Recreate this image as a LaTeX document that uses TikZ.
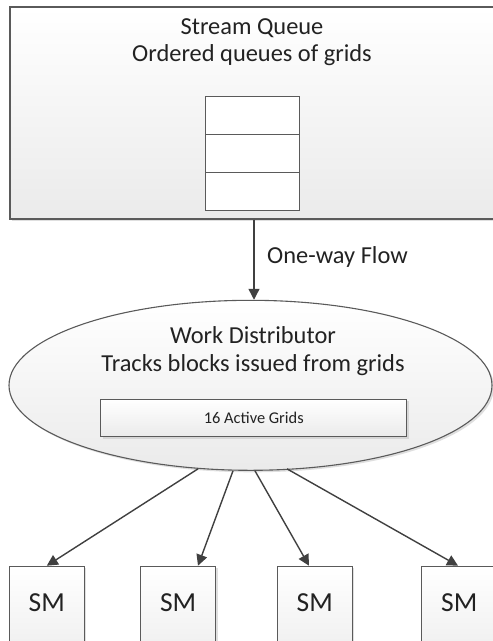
\documentclass[tikz,border=0pt]{standalone}
\usepackage{fontspec}
\setmainfont{Carlito}
\usetikzlibrary{arrows.meta,shapes.geometric,shadows,calc}
\definecolor{edge}{HTML}{5A5A5A}
\definecolor{arrc}{HTML}{404040}
\definecolor{txt}{HTML}{222222}
\begin{document}
\begin{tikzpicture}[x=1pt,y=-1pt,
  shadowed/.style={drop shadow={shadow xshift=2pt,shadow yshift=-2pt,fill=black!25,opacity=0.5}},
  panel/.style={draw=edge,line width=1.1pt,top color=white,bottom color=black!8,shadowed,inner sep=0pt},
  cell/.style={draw=edge,line width=0.9pt,fill=white,minimum width=93.6pt,minimum height=37.8pt,inner sep=0pt},
  lbl/.style={text=txt,inner sep=0pt,font=\fontsize{24.4}{29}\selectfont},
  arr/.style={draw=arrc,line width=1.4pt,-{Triangle[length=11pt,width=11pt]}}]
\clip (0,0) rectangle (493,641);
% stream queue
\node[panel,rectangle,minimum width=488pt,minimum height=212pt] (sq) at (254,113) {};
\node[lbl] (sqt1) at (252,28) {Stream Queue};
\node[lbl] (sqt2) at (252,55) {Ordered queues of grids};
\node[cell] (q1) at (252.5,115.5) {};
\node[cell] (q2) at (252.5,153.3) {};
\node[cell] (q3) at (252.5,191.2) {};
% work distributor
\node[panel,ellipse,minimum width=483pt,minimum height=170pt] (wd) at (250.5,385.3) {};
\node[lbl] (wdt1) at (253,335) {Work Distributor};
\node[lbl] (wdt2) at (253,365) {Tracks blocks issued from grids};
\node[panel,rectangle,line width=0.9pt,minimum width=306pt,minimum height=37.4pt,text=txt,font=\fontsize{16.4}{19}\selectfont] (ag) at (253.8,418) {16 Active Grids};
% flow
\draw[arr] (sq.south) -- (sq.south |- wd.north);
\node[lbl,anchor=west] (flow) at (267,257) {One-way Flow};
% SMs
\foreach \i/\x in {1/46.8,2/178.2,3/314.7,4/459.2}{
  \node[panel,rectangle,line width=0.9pt,minimum width=75pt,minimum height=110pt,anchor=north] (sm\i) at (\x,565.7) {};
  \node[lbl,font=\fontsize{27.5}{32}\selectfont] (smt\i) at (\x,603) {SM};
}
\draw[arr] ($(wd.south)+(-52.5,-2)$) -- (sm1.north);
\draw[arr] ($(wd.south)+(-17.5,0)$) -- ($(sm2.north)+(19.8,0)$);
\draw[arr] ($(wd.south)+(4.5,0)$) -- ($(sm3.north)+(-5.7,0)$);
\draw[arr] ($(wd.south)+(36.5,-2)$) -- ($(sm4.north)+(-1.2,0)$);
\end{tikzpicture}
\end{document}
